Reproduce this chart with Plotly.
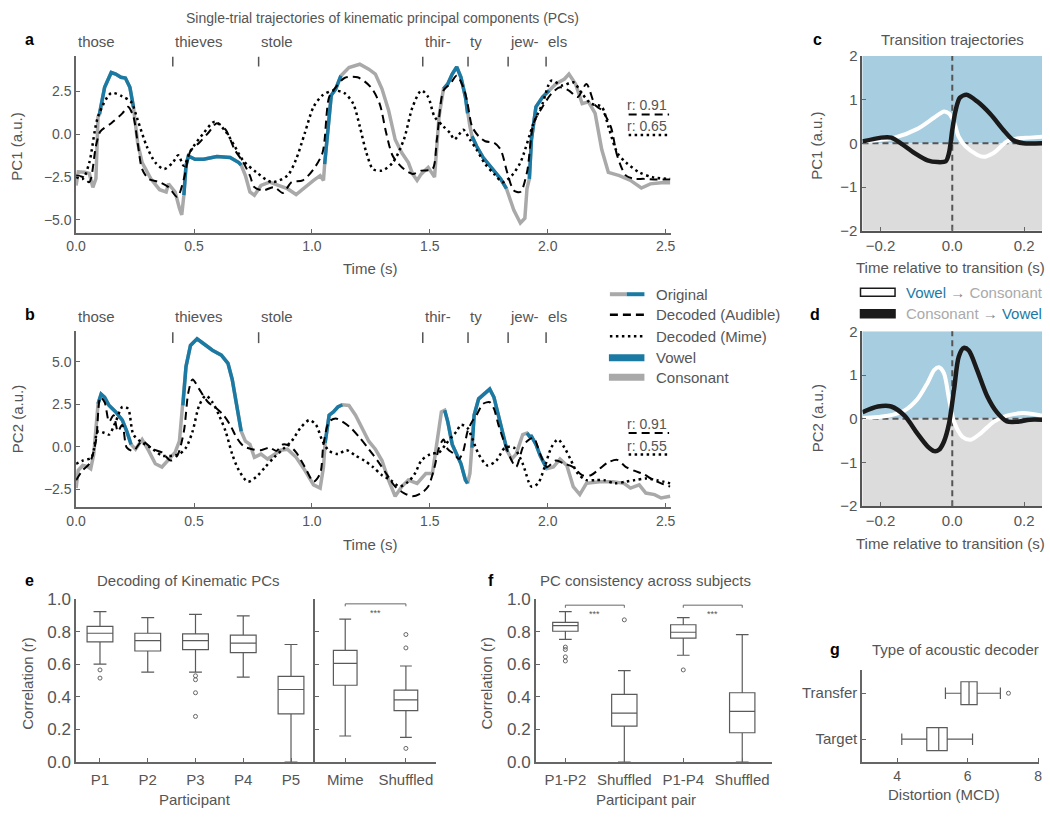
import numpy as np
import plotly.graph_objects as go

W, H = 1050, 818
def px(x): return x / W
def py(y): return 1 - y / H

GRAY = "#a9a9a9"; BLUE = "#1b7aa3"; TXT = "#555555"; AX = "#666666"
FONT = "Liberation Sans, Arial, sans-serif"

# ---------------- Panel a / b data ----------------
words = ["those", "thieves", "stole", "thir-", "ty", "jew-", "els"]
word_onsets = [0.0, 0.41, 0.774, 1.47, 1.662, 1.832, 1.993]

pc1_orig_t = [0.000,0.009,0.037,0.056,0.071,0.084,0.093,0.099,0.121,0.149,0.168,0.190,0.209,0.228,0.243,
              0.261,0.280,0.317,0.354,0.382,0.392,0.420,0.438,0.448,0.457,0.466,0.476,0.504,0.541,0.597,
              0.653,0.690,0.700,0.718,0.737,0.756,0.784,0.821,0.858,0.896,0.933,0.970,1.007,1.035,1.049,
              1.054,1.063,1.082,1.101,1.123,1.157,1.203,1.241,1.269,1.297,1.325,1.353,1.381,1.409,1.427,
              1.446,1.464,1.493,1.511,1.520,1.539,1.558,1.576,1.595,1.614,1.632,1.651,1.660,1.670,1.679,
              1.698,1.726,1.754,1.772,1.800,1.825,1.838,1.856,1.884,1.903,1.912,1.922,1.931,1.950,1.978,
              2.006,2.034,2.071,2.090,2.118,2.146,2.173,2.201,2.229,2.257,2.304,2.351,2.397,2.435,2.481,2.519]
pc1_orig_v = [-3.0,-2.2,-2.23,-2.3,-3.1,-2.6,1.0,1.16,2.72,3.58,3.49,3.30,3.26,2.72,1.58,
              -0.51,-1.66,-2.61,-3.24,-3.37,-2.9,-3.37,-4.32,-4.7,-3.56,-1.85,-1.28,-1.47,-1.47,-1.31,
              -1.37,-1.66,-1.81,-2.42,-3.37,-3.56,-2.99,-2.8,-2.99,-3.18,-3.52,-3.09,-2.7,-2.42,-2.7,
              -1.75,-0.32,2.25,2.63,3.39,3.87,4.06,3.77,3.49,2.63,1.39,-0.32,-1.09,-1.66,-2.32,
              -2.7,-2.32,-1.94,-2.32,-2.51,1.01,2.63,2.91,3.49,3.90,3.30,2.15,1.20,0.44,-0.13,
              -0.70,-1.37,-1.85,-2.13,-2.61,-3.18,-3.75,-4.42,-5.18,-4.90,-3.18,-2.61,-0.32,1.58,2.15,
              2.53,2.91,3.20,3.49,2.91,1.77,1.87,1.20,-0.90,-2.23,-2.42,-2.70,-3.14,-2.90,-2.84,-2.84]
pc1_vowels = [(0.099, 0.243), (0.457, 0.700), (1.054, 1.123), (1.558, 1.660), (1.679, 1.825), (1.922, 2.006)]

pc1_aud_t = [0.000,0.028,0.056,0.084,0.103,0.149,0.196,0.220,0.243,0.261,0.280,0.308,0.354,0.392,0.429,
             0.457,0.485,0.522,0.560,0.597,0.634,0.672,0.709,0.737,0.756,0.793,0.840,0.877,0.914,0.961,
             1.007,1.045,1.073,1.101,1.138,1.194,1.250,1.287,1.315,1.343,1.390,1.427,1.464,1.511,1.530,
             1.558,1.586,1.614,1.642,1.660,1.679,1.707,1.735,1.772,1.800,1.828,1.856,1.884,1.912,1.940,
             1.978,2.015,2.052,2.090,2.127,2.164,2.201,2.229,2.267,2.295,2.332,2.369,2.407,2.463,2.519]
pc1_aud_v = [-2.42,-2.5,-2.8,-0.7,0.15,0.63,1.20,1.58,1.01,-0.51,-2.04,-2.61,-2.80,-3.09,-3.66,
             -2.61,-0.99,-0.51,0.06,0.63,0.25,-0.90,-1.66,-2.42,-3.09,-3.28,-3.09,-3.43,-2.80,-2.70,
             -2.04,-1.09,2.15,2.72,3.26,3.30,2.72,1.77,0.06,-1.28,-2.04,-2.32,-2.13,-2.04,-0.32,
             2.53,2.91,3.39,2.72,1.77,0.44,-0.13,-0.42,-0.51,-0.90,-2.23,-3.28,-3.37,-2.23,0.63,
             1.58,2.34,2.72,2.53,2.15,2.91,1.68,1.39,0.44,-1.28,-2.42,-2.61,-2.61,-2.65,-2.65]

pc1_mime_t = [0.000,0.028,0.056,0.093,0.149,0.196,0.233,0.261,0.299,0.336,0.373,0.410,0.433,0.457,0.485,
              0.541,0.588,0.634,0.672,0.709,0.765,0.830,0.896,0.933,0.970,1.007,1.045,1.091,1.138,1.175,
              1.203,1.231,1.259,1.297,1.343,1.390,1.427,1.464,1.493,1.520,1.558,1.586,1.604,1.623,1.642,
              1.670,1.698,1.735,1.772,1.810,1.847,1.884,1.940,1.978,2.015,2.062,2.108,2.146,2.183,2.229,
              2.257,2.295,2.332,2.388,2.444,2.519]
pc1_mime_v = [-2.5,-2.61,-1.66,1.01,2.38,2.19,1.87,0.82,-0.70,-1.66,-2.04,-1.66,-1.24,-1.85,-0.99,
              0.06,0.72,0.15,-0.70,-1.56,-2.23,-2.80,-2.42,-1.47,0.06,1.58,2.25,2.53,2.38,1.77,
              0.44,-1.09,-2.04,-2.13,-1.66,-0.32,1.58,2.53,2.15,1.01,0.44,0.06,-0.32,-0.04,0.25,
              -0.32,-0.90,-1.75,-2.32,-2.80,-2.42,-1.66,0.63,1.77,3.10,2.82,3.01,2.34,1.77,1.58,
              0.44,-1.09,-1.66,-2.23,-2.51,-2.61]

pc2_orig_t = [0.000,0.009,0.028,0.047,0.062,0.075,0.093,0.106,0.121,0.140,0.168,0.196,0.215,0.233,0.252,
              0.280,0.308,0.336,0.364,0.392,0.420,0.438,0.453,0.466,0.485,0.513,0.541,0.578,0.616,0.644,
              0.662,0.681,0.700,0.718,0.737,0.756,0.784,0.812,0.840,0.868,0.896,0.933,0.970,1.007,1.035,
              1.049,1.056,1.073,1.091,1.110,1.129,1.157,1.185,1.213,1.241,1.269,1.297,1.325,1.353,1.381,
              1.409,1.446,1.483,1.511,1.530,1.549,1.563,1.576,1.595,1.614,1.632,1.651,1.660,1.670,1.679,
              1.688,1.707,1.735,1.754,1.772,1.791,1.810,1.828,1.847,1.866,1.894,1.912,1.922,1.931,1.950,
              1.968,1.996,2.024,2.052,2.081,2.108,2.136,2.164,2.220,2.276,2.323,2.351,2.388,2.416,2.453,
              2.481,2.519]
pc2_orig_v = [-2.44,-1.39,-1.11,-1.16,-1.30,-0.44,2.52,3.09,2.90,2.42,2.04,1.56,0.90,0.13,-0.15,
              0.42,-0.25,-1.01,-1.20,-0.73,-0.34,0.32,2.42,4.71,5.95,6.34,6.05,5.67,5.38,4.90,
              3.95,2.42,0.90,0.32,0.13,-0.63,-0.44,-0.73,-0.44,-0.21,-0.15,-0.63,-1.39,-2.25,-2.44,
              -1.20,0.23,1.85,2.04,2.33,2.46,2.42,1.85,1.09,0.32,-0.15,-0.82,-1.97,-2.92,-2.35,
              -1.97,-2.16,-1.58,-1.58,0.13,2.04,2.14,1.47,0.13,-0.44,-1.01,-1.97,-2.16,-1.58,-0.06,
              1.85,2.81,3.19,3.38,2.90,1.85,0.71,-0.25,-0.73,-0.44,0.71,0.80,0.61,0.61,0.13,
              -0.53,-1.30,-1.20,-0.73,-1.11,-2.35,-2.82,-2.16,-2.06,-2.06,-2.16,-2.44,-2.25,-2.73,-2.82,
              -3.02,-2.92]
pc2_vowels = [(0.093, 0.233), (0.453, 0.700), (1.056, 1.129), (1.563, 1.660), (1.679, 1.828), (1.912, 1.996)]

pc2_aud_t = [0.000,0.028,0.056,0.084,0.103,0.121,0.140,0.159,0.177,0.196,0.215,0.243,0.280,0.326,0.364,
             0.401,0.429,0.457,0.476,0.494,0.522,0.560,0.597,0.625,0.653,0.681,0.709,0.746,0.784,0.821,
             0.849,0.877,0.905,0.933,0.970,1.007,1.035,1.049,1.073,1.101,1.129,1.166,1.203,1.241,1.278,
             1.315,1.353,1.390,1.427,1.464,1.493,1.520,1.539,1.558,1.576,1.604,1.623,1.642,1.660,1.679,
             1.698,1.726,1.754,1.772,1.791,1.819,1.847,1.866,1.894,1.912,1.940,1.968,1.996,2.034,2.071,
             2.108,2.146,2.183,2.220,2.257,2.295,2.332,2.369,2.407,2.444,2.481,2.519]
pc2_aud_v = [-1.97,-1.39,-1.01,0.32,2.90,2.61,1.47,1.85,0.90,1.28,-0.06,-0.25,0.32,-0.15,-0.34,
             -0.82,-0.53,0.90,3.19,3.95,3.38,2.61,2.23,1.85,1.28,0.52,0.04,-0.15,-0.21,-0.06,
             -0.25,0.13,0.04,-0.34,-1.20,-2.06,-1.58,0.13,1.47,1.66,1.47,1.09,0.52,-0.15,-0.82,
             -1.58,-2.35,-2.73,-2.92,-2.73,-2.35,-1.20,-0.06,0.42,-0.15,-0.44,-0.73,-0.25,0.90,1.47,
             1.85,2.52,2.61,2.23,1.28,0.13,-0.82,-1.20,-0.06,0.32,0.52,-0.44,-1.20,-0.82,-1.01,
             -1.20,-1.68,-1.68,-1.30,-0.92,-0.78,-1.20,-1.43,-1.62,-1.93,-2.16,-2.35]

pc2_mime_t = [0.000,0.028,0.065,0.093,0.121,0.140,0.168,0.196,0.220,0.243,0.280,0.317,0.364,0.410,0.438,
              0.466,0.494,0.522,0.550,0.578,0.606,0.634,0.662,0.690,0.728,0.765,0.802,0.840,0.877,0.914,
              0.951,0.989,1.017,1.045,1.073,1.110,1.147,1.185,1.222,1.259,1.297,1.334,1.371,1.409,1.437,
              1.464,1.502,1.539,1.567,1.595,1.614,1.632,1.660,1.679,1.707,1.744,1.782,1.819,1.856,1.894,
              1.931,1.959,1.987,2.015,2.043,2.071,2.099,2.127,2.164,2.201,2.239,2.285,2.332,2.369,2.416,
              2.463,2.519]
pc2_mime_v = [-1.01,-0.82,-0.63,0.90,0.80,0.71,1.47,2.33,2.23,0.71,0.23,-0.06,-0.53,-0.53,-0.44,
              -0.06,0.90,2.42,3.00,2.61,1.85,0.90,-0.44,-1.39,-2.06,-1.77,-1.20,-0.63,-0.15,0.32,
              1.09,1.56,1.28,0.32,-0.25,-0.44,-0.21,-0.53,-0.82,-1.20,-1.68,-1.97,-2.35,-2.06,-1.58,
              -0.82,-0.44,-0.34,0.13,0.61,0.90,1.28,1.09,0.52,-0.44,-1.11,-0.82,-0.06,-0.06,-1.01,
              -2.35,-2.16,-1.20,-0.06,0.42,-0.06,-0.82,-1.58,-1.97,-1.97,-1.97,-2.16,-2.06,-1.97,-1.87,
              -1.97,-2.16]

r_a = ["r: 0.91", "r: 0.65"]
r_b = ["r: 0.91", "r: 0.55"]

# ---------------- Panel c / d data ----------------
c_white_t = [-0.25,-0.161,-0.097,-0.05,-0.023,-0.009,0.005,0.018,0.037,0.069,0.087,0.115,0.152,0.18,0.216,0.25]
c_white_v = [0.04,0.13,0.33,0.59,0.73,0.68,0.48,0.15,-0.07,-0.26,-0.31,-0.22,0.04,0.11,0.13,0.15]
c_black_t = [-0.25,-0.198,-0.17,-0.143,-0.106,-0.069,-0.041,-0.018,-0.009,0.0,0.009,0.021,0.04,0.069,0.106,0.143,0.17,0.198,0.25]
c_black_v = [0.04,0.13,0.13,0.0,-0.22,-0.39,-0.43,-0.41,-0.22,0.30,0.74,1.04,1.11,0.96,0.67,0.30,0.07,0.0,0.0]
d_white_t = [-0.25,-0.179,-0.133,-0.097,-0.069,-0.05,-0.037,-0.023,-0.009,0.005,0.028,0.051,0.078,0.115,0.152,0.198,0.25]
d_white_v = [0.02,0.07,0.19,0.45,0.82,1.12,1.18,1.04,0.45,-0.07,-0.41,-0.48,-0.34,-0.07,0.07,0.13,0.07]
d_black_t = [-0.25,-0.207,-0.17,-0.133,-0.097,-0.069,-0.05,-0.037,-0.023,-0.009,0.005,0.018,0.032,0.046,0.069,0.097,0.124,0.152,0.18,0.216,0.25]
d_black_v = [0.15,0.28,0.28,0.07,-0.34,-0.63,-0.74,-0.71,-0.52,-0.11,0.67,1.42,1.62,1.56,1.12,0.52,0.15,-0.06,-0.07,-0.02,-0.02]

# ---------------- Panel e data ----------------
e_cats = ["P1", "P2", "P3", "P4", "P5"]
e_q1 = [0.737, 0.681, 0.689, 0.671, 0.295]
e_med = [0.790, 0.745, 0.745, 0.729, 0.445]
e_q3 = [0.832, 0.790, 0.786, 0.778, 0.525]
e_lo = [0.601, 0.551, 0.551, 0.521, 0.0]
e_hi = [0.922, 0.886, 0.906, 0.896, 0.721]
e_out_cat = ["P1", "P1", "P3", "P3", "P3", "P3"]
e_out_val = [0.565, 0.515, 0.529, 0.505, 0.425, 0.28]

e2_cats = ["Mime", "Shuffled"]
e2_q1 = [0.471, 0.315]
e2_med = [0.605, 0.381]
e2_q3 = [0.685, 0.441]
e2_lo = [0.16, 0.152]
e2_hi = [0.876, 0.589]
e2_out_cat = ["Shuffled", "Shuffled", "Shuffled"]
e2_out_val = [0.782, 0.70, 0.084]

# ---------------- Panel f data ----------------
f_cats = ["P1-P2", "Shuffled", "P1-P4", "Shuffled"]
f_q1 = [0.802, 0.22, 0.76, 0.18]
f_med = [0.836, 0.30, 0.796, 0.311]
f_q3 = [0.856, 0.415, 0.842, 0.425]
f_lo = [0.752, 0.0, 0.655, 0.0]
f_hi = [0.922, 0.561, 0.886, 0.782]
f_out_idx = [0, 0, 0, 0, 1, 2]
f_out_val = [0.705, 0.69, 0.645, 0.62, 0.872, 0.565]
f_sig_pairs = [(0, 1), (2, 3)]

# ---------------- Panel g data ----------------
g_cats = ["Target", "Transfer"]
g_q1 = [4.84, 5.81]
g_med = [5.18, 6.04]
g_q3 = [5.42, 6.27]
g_lo = [4.13, 5.37]
g_hi = [6.14, 6.93]
g_out_cat = ["Transfer"]
g_out_val = [7.16]

fig = go.Figure()

def line(x, y, xa, ya, color, width, dash=None, shape="linear"):
    fig.add_trace(go.Scatter(x=x, y=y, mode="lines", xaxis=xa, yaxis=ya, showlegend=False,
                             hoverinfo="skip", line=dict(color=color, width=width, dash=dash, shape=shape,
                                                         smoothing=0.8)))

def add_original(t, v, intervals, xa, ya):
    t = np.asarray(t); v = np.asarray(v)
    line(t, v, xa, ya, GRAY, 3.5)
    for s, e in intervals:
        m = (t >= s - 1e-9) & (t <= e + 1e-9)
        line(t[m], v[m], xa, ya, BLUE, 3.5)

DASH = "8px,5px"
DOT = "2.5px,3.5px"

add_original(pc1_orig_t, pc1_orig_v, pc1_vowels, "x", "y")
line(pc1_aud_t, pc1_aud_v, "x", "y", "black", 2, DASH, "spline")
line(pc1_mime_t, pc1_mime_v, "x", "y", "black", 2.5, DOT, "spline")

add_original(pc2_orig_t, pc2_orig_v, pc2_vowels, "x2", "y2")
line(pc2_aud_t, pc2_aud_v, "x2", "y2", "black", 2, DASH, "spline")
line(pc2_mime_t, pc2_mime_v, "x2", "y2", "black", 2.5, DOT, "spline")

line(c_white_t, c_white_v, "x3", "y3", "white", 4, None, "spline")
line(c_black_t, c_black_v, "x3", "y3", "#1a1a1a", 4.5, None, "spline")
line(d_white_t, d_white_v, "x4", "y4", "white", 4, None, "spline")
line(d_black_t, d_black_v, "x4", "y4", "#1a1a1a", 4.5, None, "spline")

BOXLINE = dict(color="#5a5a5a", width=1.2)

def boxes(pos, q1, med, q3, lo, hi, xa, ya, width, orient="v"):
    kw = dict(q1=q1, median=med, q3=q3, lowerfence=lo, upperfence=hi, xaxis=xa, yaxis=ya,
              fillcolor="white", line=BOXLINE, width=width, whiskerwidth=0.5, boxpoints=False,
              showlegend=False, hoverinfo="skip", orientation=orient)
    if orient == "v":
        kw["x"] = pos
    else:
        kw["y"] = pos
    fig.add_trace(go.Box(**kw))

def outliers(x, y, xa, ya):
    fig.add_trace(go.Scatter(x=x, y=y, mode="markers", xaxis=xa, yaxis=ya, showlegend=False,
                             hoverinfo="skip", marker=dict(symbol="circle-open", size=4,
                                                           color="#666", line=dict(width=1, color="#666"))))

e_pos = list(range(len(e_cats)))
boxes(e_pos, e_q1, e_med, e_q3, e_lo, e_hi, "x5", "y5", 0.54)
outliers([e_cats.index(c) for c in e_out_cat], e_out_val, "x5", "y5")

e2_pos = list(range(len(e2_cats)))
boxes(e2_pos, e2_q1, e2_med, e2_q3, e2_lo, e2_hi, "x6", "y6", 0.39)
outliers([e2_cats.index(c) for c in e2_out_cat], e2_out_val, "x6", "y6")

f_pos = list(range(len(f_cats)))
boxes(f_pos, f_q1, f_med, f_q3, f_lo, f_hi, "x7", "y7", 0.43)
outliers(f_out_idx, f_out_val, "x7", "y7")

g_pos = list(range(len(g_cats)))
boxes(g_pos, g_q1, g_med, g_q3, g_lo, g_hi, "x8", "y8", 0.5, "h")
outliers(g_out_val, [g_cats.index(c) for c in g_out_cat], "x8", "y8")

# ---------------- axes ----------------
def ax(**kw):
    d = dict(showline=True, linecolor=AX, linewidth=1.5, ticks="inside", ticklen=4, tickcolor=AX,
             tickwidth=1.2, showgrid=False, zeroline=False, tickfont=dict(size=14, color=TXT),
             fixedrange=True)
    d.update(kw)
    return d

lay = dict(
    xaxis=ax(domain=[px(67), px(670)], range=[0, 2.523], anchor="y", dtick=0.5, tick0=0, tickformat=".1f"),
    yaxis=ax(domain=[py(229), py(48)], range=[-5.74, 4.545], anchor="x", dtick=2.5, tick0=0, tickformat=".1f"),
    xaxis2=ax(domain=[px(67), px(670)], range=[0, 2.523], anchor="y2", dtick=0.5, tick0=0, tickformat=".1f"),
    yaxis2=ax(domain=[py(510), py(330)], range=[-3.56, 6.78], anchor="x2", dtick=2.5, tick0=0, tickformat=".1f"),
    xaxis3=ax(domain=[px(864), px(1046)], range=[-0.25, 0.25], anchor="y3", tickvals=[-0.2, 0, 0.2],
              tickformat=".1f", linecolor="#555", linewidth=2, tickfont=dict(size=15, color=TXT)),
    yaxis3=ax(domain=[py(227), py(48)], range=[-2, 2], anchor="x3", tickvals=[-2, -1, 0, 1, 2],
              linecolor="#555", linewidth=2, tickfont=dict(size=15, color=TXT)),
    xaxis4=ax(domain=[px(864), px(1046)], range=[-0.25, 0.25], anchor="y4", tickvals=[-0.2, 0, 0.2],
              tickformat=".1f", linecolor="#555", linewidth=2, tickfont=dict(size=15, color=TXT)),
    yaxis4=ax(domain=[py(509), py(330)], range=[-2, 2], anchor="x4", tickvals=[-2, -1, 0, 1, 2],
              linecolor="#555", linewidth=2, tickfont=dict(size=15, color=TXT)),
    xaxis5=ax(domain=[px(67), px(309)], range=[-0.5, len(e_cats) - 0.5], anchor="y5",
              tickvals=e_pos, ticktext=e_cats, tickfont=dict(size=15, color=TXT), ticklabelstandoff=3),
    yaxis5=ax(domain=[py(771), py(604)], range=[0, 1], anchor="x5", dtick=0.2, tickformat=".1f",
              tickfont=dict(size=17, color=TXT)),
    xaxis6=ax(domain=[px(309), px(432)], range=[-0.5, len(e2_cats) - 0.5], anchor="y6",
              tickvals=e2_pos, ticktext=e2_cats, tickfont=dict(size=15, color=TXT), ticklabelstandoff=3),
    yaxis6=ax(domain=[py(771), py(604)], range=[0, 1], anchor="x6", dtick=0.2, showticklabels=False),
    xaxis7=ax(domain=[px(533), px(772)], range=[-0.5, len(f_cats) - 0.5], anchor="y7",
              tickvals=f_pos, ticktext=f_cats, tickfont=dict(size=15, color=TXT), ticklabelstandoff=3),
    yaxis7=ax(domain=[py(771), py(604)], range=[0, 1], anchor="x7", dtick=0.2, tickformat=".1f",
              tickfont=dict(size=17, color=TXT)),
    xaxis8=ax(domain=[px(863.5), px(1043)], range=[3, 8.03], anchor="y8", tickvals=[4, 6, 8],
              tickfont=dict(size=14, color=TXT)),
    yaxis8=ax(domain=[py(771), py(677)], range=[-0.5, len(g_cats) - 0.5], anchor="x8",
              tickvals=g_pos, ticktext=g_cats, tickfont=dict(size=15, color=TXT)),
)

shapes = []
anns = []

def ann(x, y, text, size=15, color=TXT, xanchor="center", yanchor="middle", angle=0, bold=False,
        xref="paper", yref="paper"):
    anns.append(dict(x=x, y=y, xref=xref, yref=yref, text=f"<b>{text}</b>" if bold else text,
                     showarrow=False, xanchor=xanchor, yanchor=yanchor, textangle=angle,
                     font=dict(size=size, color=color, family=FONT)))

# word labels and onset markers
for (xa, ya, ylab, top) in [("x", "y", 33, 0.94), ("x2", "y2", 315, 0.933)]:
    for w, t0 in zip(words, word_onsets):
        ann(t0, py(ylab), w, size=15, xanchor="left", xref=xa)
        if t0 > 0:
            shapes.append(dict(type="line", xref=xa, yref=ya + " domain", x0=t0, x1=t0, y0=top, y1=0.995,
                               line=dict(color="#555", width=1.5)))

# r labels
for labels, ys in [(r_a, (98, 108, 120, 129)), (r_b, (425, 434, 447, 456))]:
    ann(px(668), py(ys[0]), labels[0], size=14, xanchor="right")
    shapes.append(dict(type="line", xref="paper", yref="paper", x0=px(627), x1=px(668), y0=py(ys[1]),
                       y1=py(ys[1]), line=dict(color="black", width=2, dash=DASH)))
    ann(px(668), py(ys[2]), labels[1], size=14, xanchor="right")
    shapes.append(dict(type="line", xref="paper", yref="paper", x0=px(627), x1=px(668), y0=py(ys[3]),
                       y1=py(ys[3]), line=dict(color="black", width=2.5, dash=DOT)))

# legend for a/b
leg_y = [292, 313, 335, 357, 377]
leg_txt = ["Original", "Decoded (Audible)", "Decoded (Mime)", "Vowel", "Consonant"]
shapes.append(dict(type="line", xref="paper", yref="paper", x0=px(608), x1=px(625), y0=py(leg_y[0]), y1=py(leg_y[0]),
                   line=dict(color=GRAY, width=4)))
shapes.append(dict(type="line", xref="paper", yref="paper", x0=px(625), x1=px(643), y0=py(leg_y[0]), y1=py(leg_y[0]),
                   line=dict(color=BLUE, width=4)))
shapes.append(dict(type="line", xref="paper", yref="paper", x0=px(608), x1=px(643), y0=py(leg_y[1]), y1=py(leg_y[1]),
                   line=dict(color="black", width=2.5, dash=DASH)))
shapes.append(dict(type="line", xref="paper", yref="paper", x0=px(608), x1=px(643), y0=py(leg_y[2]), y1=py(leg_y[2]),
                   line=dict(color="black", width=2.5, dash=DOT)))
shapes.append(dict(type="line", xref="paper", yref="paper", x0=px(607), x1=px(643), y0=py(leg_y[3]), y1=py(leg_y[3]),
                   line=dict(color=BLUE, width=7)))
shapes.append(dict(type="line", xref="paper", yref="paper", x0=px(607), x1=px(643), y0=py(leg_y[4]), y1=py(leg_y[4]),
                   line=dict(color=GRAY, width=7)))
for yy, tt in zip(leg_y, leg_txt):
    ann(px(653), py(yy), tt, size=15, xanchor="left")

# c/d backgrounds and dashed guides
for xa, ya in [("x3", "y3"), ("x4", "y4")]:
    shapes.append(dict(type="rect", xref=xa + " domain", yref=ya, x0=0, x1=1, y0=0, y1=2,
                       fillcolor="#a7cde0", line=dict(width=0), layer="below"))
    shapes.append(dict(type="rect", xref=xa + " domain", yref=ya, x0=0, x1=1, y0=-2, y1=0,
                       fillcolor="#dcdcdc", line=dict(width=0), layer="below"))
    shapes.append(dict(type="line", xref=xa, yref=ya + " domain", x0=0, x1=0, y0=0, y1=1,
                       line=dict(color="#555", width=2, dash="6px,4px"), layer="below"))
    shapes.append(dict(type="line", xref=xa + " domain", yref=ya, x0=0, x1=1, y0=0, y1=0,
                       line=dict(color="#555", width=2, dash="6px,4px"), layer="below"))

# c/d legend
shapes.append(dict(type="rect", xref="paper", yref="paper", x0=px(862), x1=px(897), y0=py(294), y1=py(286),
                   fillcolor="white", line=dict(color="#1a1a1a", width=1.5)))
shapes.append(dict(type="rect", xref="paper", yref="paper", x0=px(862), x1=px(897), y0=py(316), y1=py(308),
                   fillcolor="#1a1a1a", line=dict(color="#1a1a1a", width=1.5)))
ann(px(906), py(290), f"<span style='color:{BLUE}'>Vowel</span> <span style='color:#888'>→</span> "
    f"<span style='color:#aaaaaa'>Consonant</span>", size=15, xanchor="left")
ann(px(906), py(312), f"<span style='color:#aaaaaa'>Consonant</span> <span style='color:#888'>→</span> "
    f"<span style='color:{BLUE}'>Vowel</span>", size=15, xanchor="left")

# significance brackets
def bracket(xa, ya, i0, i1, y, drop):
    shapes.append(dict(type="path", xref=xa, yref=ya,
                       path=f"M {i0},{y - drop} L {i0},{y} L {i1},{y} L {i1},{y - drop}",
                       line=dict(color="#666", width=1)))
    ann((i0 + i1) / 2, y - 0.055, "***", size=9, xref=xa, yref=ya)

bracket("x6", "y6", e2_pos[0], e2_pos[1], 0.97, 0.015)
for i0, i1 in f_sig_pairs:
    bracket("x7", "y7", f_pos[i0], f_pos[i1], 0.962, 0.016)

# titles, panel letters, axis labels
ann(px(378), py(9), "Single-trial trajectories of kinematic principal components (PCs)", size=14)
ann(px(955), py(31), "Transition trajectories", size=15)
ann(px(86), py(585), "Decoding of Kinematic PCs", size=15, xanchor="left")
ann(px(535), py(585), "PC consistency across subjects", size=15, xanchor="left")
ann(px(872), py(656), "Type of acoustic decoder", size=15, xanchor="left")

for letter, x, y in [("a", 20, 31), ("b", 20, 313), ("c", 818, 31), ("d", 816, 313),
                     ("e", 20, 585), ("f", 487, 585), ("g", 836, 656)]:
    ann(px(x), py(y), letter, size=16, color="black", bold=True)

ann(px(365), py(266), "Time (s)", size=15)
ann(px(365), py(548), "Time (s)", size=15)
ann(px(7), py(141), "PC1 (a.u.)", size=15, angle=-90)
ann(px(7), py(420), "PC2 (a.u.)", size=15, angle=-90)
ann(px(953), py(265), "Time relative to transition (s)", size=15)
ann(px(953), py(547), "Time relative to transition (s)", size=15)
ann(px(818), py(140), "PC1 (a.u.)", size=15, angle=-90)
ann(px(818), py(419), "PC2 (a.u.)", size=15, angle=-90)
ann(px(18), py(690), "Correlation (r)", size=15, angle=-90)
ann(px(483), py(690), "Correlation (r)", size=15, angle=-90)
ann(px(187), py(809), "Participant", size=15)
ann(px(645), py(809), "Participant pair", size=15)
ann(px(947), py(804), "Distortion (MCD)", size=15)

fig.update_layout(
    width=W, height=H, margin=dict(l=0, r=0, t=0, b=0),
    paper_bgcolor="white", plot_bgcolor="rgba(0,0,0,0)",
    font=dict(family=FONT, color=TXT, size=14),
    showlegend=False, shapes=shapes, annotations=anns, **lay)

fig.write_html("out.html", config={"displayModeBar": False},
               post_script="document.body.style.margin='0';document.body.style.overflow='hidden';")
